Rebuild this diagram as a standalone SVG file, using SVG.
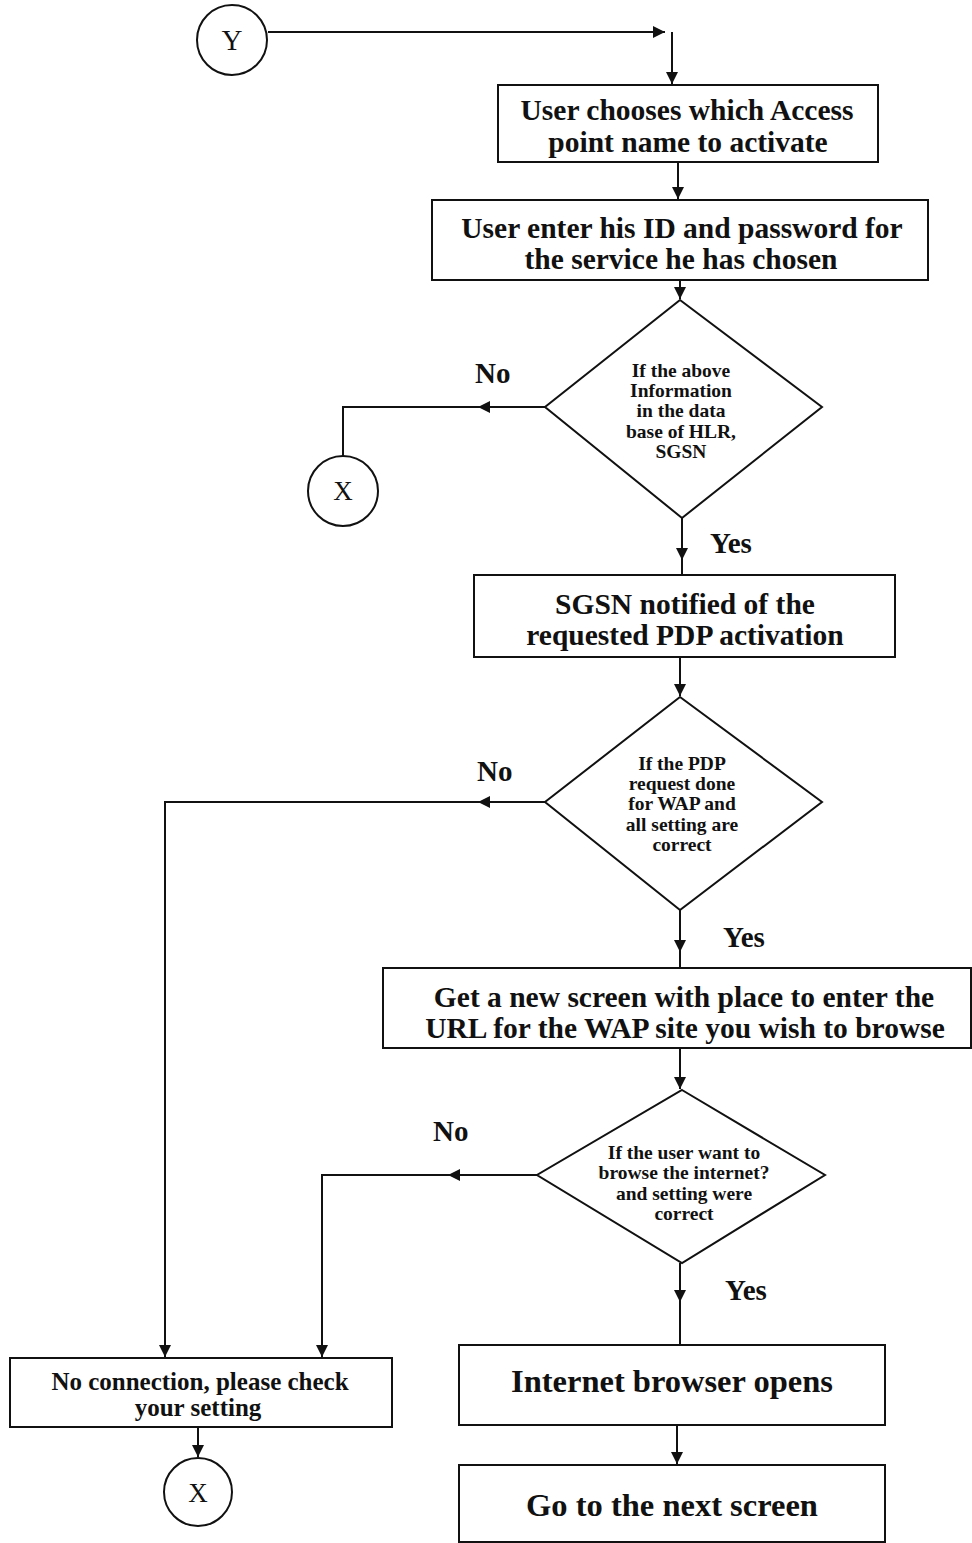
<svg xmlns="http://www.w3.org/2000/svg" width="972" height="1543" viewBox="0 0 972 1543">
<style>
.box{fill:#fff;stroke:#111;stroke-width:2}
.line{fill:none;stroke:#111;stroke-width:2}
.t{font-family:"Liberation Serif","Times New Roman",serif;font-weight:bold;fill:#111;text-anchor:middle}
.big{font-size:29.5px}
.huge{font-size:32.5px}
.mid{font-size:25px}
.sm{font-size:19.5px}
.lbl{font-size:29px;text-anchor:start}
.circ{font-family:"Liberation Serif",serif;fill:#111;text-anchor:middle}
</style>
<defs>
<marker id="ah" viewBox="0 0 10 10" refX="10" refY="5" markerWidth="12" markerHeight="12" markerUnits="userSpaceOnUse" orient="auto">
<path d="M0,0 L10,5 L0,10 z" fill="#111"/>
</marker>
</defs>
<rect width="972" height="1543" fill="#fff"/>
<g id="connectors">
<path class="line" d="M268,32 H665" marker-end="url(#ah)"/>
<path class="line" d="M672,32 V84" marker-end="url(#ah)"/>
<path class="line" d="M678,162 V199" marker-end="url(#ah)"/>
<path class="line" d="M680,280 V299" marker-end="url(#ah)"/>
<path class="line" d="M545,407 H478" marker-end="url(#ah)"/>
<path class="line" d="M480,407 H343 V456"/>
<path class="line" d="M682,518 V560" marker-end="url(#ah)"/>
<path class="line" d="M682,555 V575"/>
<path class="line" d="M680,657 V696" marker-end="url(#ah)"/>
<path class="line" d="M545,802 H478" marker-end="url(#ah)"/>
<path class="line" d="M480,802 H165 V1357" marker-end="url(#ah)"/>
<path class="line" d="M680,910 V952" marker-end="url(#ah)"/>
<path class="line" d="M680,948 V968"/>
<path class="line" d="M680,1048 V1089" marker-end="url(#ah)"/>
<path class="line" d="M537,1175 H448" marker-end="url(#ah)"/>
<path class="line" d="M450,1175 H322 V1357" marker-end="url(#ah)"/>
<path class="line" d="M680,1263 V1302" marker-end="url(#ah)"/>
<path class="line" d="M680,1298 V1345"/>
<path class="line" d="M677,1425 V1464" marker-end="url(#ah)"/>
<path class="line" d="M198,1427 V1457" marker-end="url(#ah)"/>
</g>
<g id="nodeY">
<circle class="box" cx="232" cy="40" r="35"/>
<text class="circ" x="232" y="50" font-size="29">Y</text>
</g>
<g id="box1">
<rect class="box" x="498" y="85" width="380" height="77"/>
<text class="t big" x="687" y="120">User chooses which Access</text>
<text class="t big" x="688" y="152">point name to activate</text>
</g>
<g id="box2">
<rect class="box" x="432" y="200" width="496" height="80"/>
<text class="t big" x="682" y="238">User enter his ID and password for</text>
<text class="t big" x="681" y="269">the service he has chosen</text>
</g>
<g id="dec1">
<polygon class="box" points="680,300 822,407 682,518 545,407"/>
<text class="t sm" x="681" y="377">If the above</text>
<text class="t sm" x="681" y="397">Information</text>
<text class="t sm" x="681" y="417">in the data</text>
<text class="t sm" x="681" y="438">base of HLR,</text>
<text class="t sm" x="681" y="458">SGSN</text>
</g>
<text class="t lbl" x="475" y="383">No</text>
<g id="nodeX1">
<circle class="box" cx="343" cy="491" r="35"/>
<text class="circ" x="343" y="500" font-size="27">X</text>
</g>
<text class="t lbl" x="710" y="553">Yes</text>
<g id="box3">
<rect class="box" x="474" y="575" width="421" height="82"/>
<text class="t big" x="685" y="614">SGSN notified of the</text>
<text class="t big" x="685" y="645">requested PDP activation</text>
</g>
<g id="dec2">
<polygon class="box" points="680,697 822,802 680,910 545,802"/>
<text class="t sm" x="682" y="770">If the PDP</text>
<text class="t sm" x="682" y="790">request done</text>
<text class="t sm" x="682" y="810">for WAP and</text>
<text class="t sm" x="682" y="831">all setting are</text>
<text class="t sm" x="682" y="851">correct</text>
</g>
<text class="t lbl" x="477" y="781">No</text>
<text class="t lbl" x="723" y="947">Yes</text>
<g id="box4">
<rect class="box" x="383" y="968" width="588" height="80"/>
<text class="t big" x="684" y="1007">Get a new screen with place to enter the</text>
<text class="t big" x="685" y="1038">URL for the WAP site you wish to browse</text>
</g>
<g id="dec3">
<polygon class="box" points="682,1090 825,1175 682,1263 537,1175"/>
<text class="t sm" x="684" y="1159">If the user want to</text>
<text class="t sm" x="684" y="1179">browse the internet?</text>
<text class="t sm" x="684" y="1200">and setting were</text>
<text class="t sm" x="684" y="1220">correct</text>
</g>
<text class="t lbl" x="433" y="1141">No</text>
<text class="t lbl" x="725" y="1300">Yes</text>
<g id="box5">
<rect class="box" x="459" y="1345" width="426" height="80"/>
<text class="t huge" x="672" y="1392">Internet browser opens</text>
</g>
<g id="box6">
<rect class="box" x="459" y="1465" width="426" height="77"/>
<text class="t huge" x="672" y="1516">Go to the next screen</text>
</g>
<g id="box7">
<rect class="box" x="10" y="1358" width="382" height="69"/>
<text class="t mid" x="200" y="1390">No connection, please check</text>
<text class="t mid" x="198" y="1416">your setting</text>
</g>
<g id="nodeX2">
<circle class="box" cx="198" cy="1492" r="34"/>
<text class="circ" x="198" y="1502" font-size="27">X</text>
</g>
</svg>
